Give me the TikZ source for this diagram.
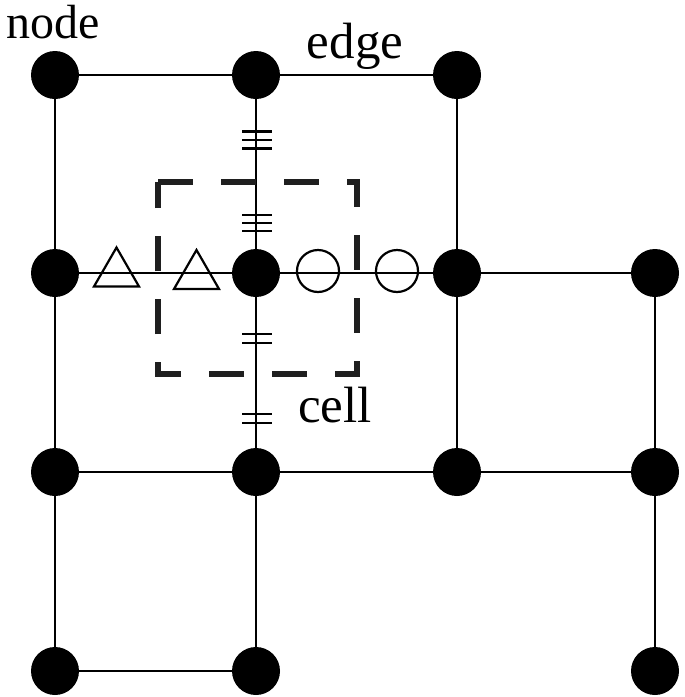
\documentclass[tikz,border=0pt]{standalone}
\usepackage{fontspec}
\setmainfont{Liberation Serif}
\usetikzlibrary{shapes.geometric}
\begin{document}
\begin{tikzpicture}[x=1pt,y=-1pt,
  dot/.style={circle,fill=black,inner sep=0pt,minimum size=48pt},
  gridline/.style={line width=2.6pt,black},
  tickline/.style={line width=2.4pt,black},
  trimark/.style={regular polygon,regular polygon sides=3,draw,line width=2.2pt,inner sep=0pt,minimum size=52pt},
  circmark/.style={circle,draw,line width=2.2pt,inner sep=0pt,minimum size=42pt},
  lbl/.style={font=\fontsize{51}{51}\selectfont,inner sep=0pt,anchor=base,text height=0.7em,text depth=0.22em},
  cellbox/.style={line width=6pt,black!88,dash pattern=on 35pt off 28pt}]
\useasboundingbox (0,0) rectangle (685,697);
% nodes
\node[dot] (a1) at (55,75) {};
\node[dot] (a2) at (256,75) {};
\node[dot] (a3) at (457,75) {};
\node[dot] (b1) at (55,273) {};
\node[dot] (b2) at (256,273) {};
\node[dot] (b3) at (457,273) {};
\node[dot] (b4) at (655,273) {};
\node[dot] (c1) at (55,472) {};
\node[dot] (c2) at (256,472) {};
\node[dot] (c3) at (457,472) {};
\node[dot] (c4) at (655,472) {};
\node[dot] (d1) at (55,671) {};
\node[dot] (d2) at (256,671) {};
\node[dot] (d4) at (655,671) {};
% edges
\draw[gridline] (a1) -- (a2);
\draw[gridline] (a2) -- (a3);
\draw[gridline] (b1) -- (b2);
\draw[gridline] (b2) -- (b3);
\draw[gridline] (b3) -- (b4);
\draw[gridline] (c1) -- (c2);
\draw[gridline] (c2) -- (c3);
\draw[gridline] (c3) -- (c4);
\draw[gridline] (d1) -- (d2);
\draw[gridline] (a1) -- (b1);
\draw[gridline] (b1) -- (c1);
\draw[gridline] (c1) -- (d1);
\draw[gridline] (a2) -- (b2);
\draw[gridline] (b2) -- (c2);
\draw[gridline] (c2) -- (d2);
\draw[gridline] (a3) -- (b3);
\draw[gridline] (b3) -- (c3);
\draw[gridline] (b4) -- (c4);
\draw[gridline] (c4) -- (d4);
% markers on the middle row
\node[trimark] (t1) at (116.5,273.5) {};
\node[trimark] (t2) at (196.5,276) {};
\node[circmark] (o1) at (318,271) {};
\node[circmark] (o2) at (397,271) {};
% tick marks
\foreach \yy in {131.5,140,148.5,215,223,231,334,343,414,423}
  \draw[tickline] (242,\yy) -- (272,\yy);
% cell
\draw[cellbox] (158,182) -- (357,182) -- (357,374) -- (158,374) -- cycle;
% labels
\node[lbl,font=\fontsize{48}{48}\selectfont] (nodelbl) at (53,38) {node};
\node[lbl] (edgelbl) at (355,58) {edge};
\node[lbl] (celllbl) at (335,422) {cell};
\end{tikzpicture}
\end{document}
